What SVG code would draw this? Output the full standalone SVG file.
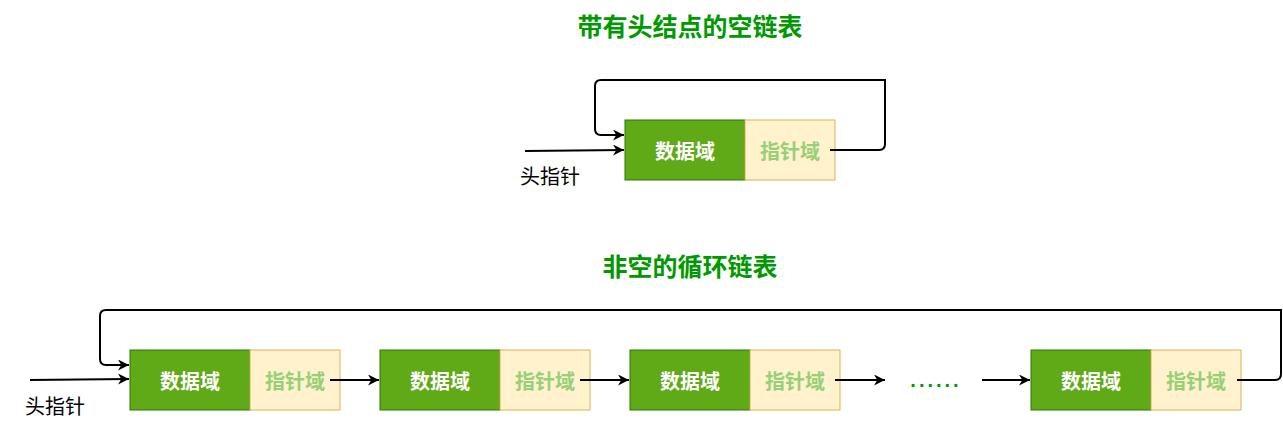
<svg xmlns="http://www.w3.org/2000/svg" width="1283" height="421" viewBox="0 0 1283 421">
<style>
.data{fill:#60a917;stroke:#2d7600;stroke-width:1}
.ptr{fill:#fff2cc;stroke:#d6b656;stroke-width:1}
.dt{font-family:"Noto Sans CJK SC","Noto Sans",sans-serif;font-size:20px;font-weight:bold;fill:#ffffff;text-anchor:middle;dominant-baseline:central}
.pt{font-family:"Noto Sans CJK SC","Noto Sans",sans-serif;font-size:20px;font-weight:bold;fill:#97d077;text-anchor:middle;dominant-baseline:central}
.title{font-family:"Noto Sans CJK SC","Noto Sans",sans-serif;font-size:25px;font-weight:bold;fill:#009900;text-anchor:middle;dominant-baseline:central}
.lbl{font-family:"Noto Sans CJK SC","Noto Sans",sans-serif;font-size:20px;fill:#000000;text-anchor:middle;dominant-baseline:central}
.edge{fill:none;stroke:#000000;stroke-width:2}
</style>
<defs>
<marker id="arr" viewBox="0 0 10 10" refX="10" refY="5" markerWidth="12" markerHeight="11" markerUnits="userSpaceOnUse" orient="auto">
<path d="M0,0 L10,5 L0,10 L3,5 Z" fill="#000"/>
</marker>
</defs>
<rect width="1283" height="421" fill="#ffffff"/>
<text id="title1" class="title" x="690" y="25">带有头结点的空链表</text>
<text id="title2" class="title" x="690" y="265">非空的循环链表</text>

<g id="top-node">
<rect class="data" x="625" y="120" width="120" height="60"/>
<text class="dt" x="685" y="150">数据域</text>
<rect class="ptr" x="745" y="120" width="90" height="60"/>
<text class="pt" x="790" y="150">指针域</text>
</g>
<text id="top-head" class="lbl" x="550" y="175">头指针</text>

<g id="n1">
<rect class="data" x="130" y="350" width="120" height="60"/>
<text class="dt" x="190" y="380">数据域</text>
<rect class="ptr" x="250" y="350" width="90" height="60"/>
<text class="pt" x="295" y="380">指针域</text>
</g>
<g id="n2">
<rect class="data" x="380" y="350" width="120" height="60"/>
<text class="dt" x="440" y="380">数据域</text>
<rect class="ptr" x="500" y="350" width="90" height="60"/>
<text class="pt" x="545" y="380">指针域</text>
</g>
<g id="n3">
<rect class="data" x="630" y="350" width="120" height="60"/>
<text class="dt" x="690" y="380">数据域</text>
<rect class="ptr" x="750" y="350" width="90" height="60"/>
<text class="pt" x="795" y="380">指针域</text>
</g>
<g id="n4">
<rect class="data" x="1031" y="350" width="120" height="60"/>
<text class="dt" x="1091" y="380">数据域</text>
<rect class="ptr" x="1151" y="350" width="90" height="60"/>
<text class="pt" x="1196" y="380">指针域</text>
</g>
<text id="dots" x="936" y="380" font-family="Liberation Sans,sans-serif" font-size="20" font-weight="bold" letter-spacing="3" fill="#009900" text-anchor="middle" dominant-baseline="central">......</text>
<text id="bottom-head" class="lbl" x="55" y="405">头指针</text>

<g id="connectors">
<path class="edge" d="M525,151 L624,150" marker-end="url(#arr)"/>
<path class="edge" d="M830,150 L879,150 Q885,150 885,144 L885,80 L601,80 Q595,80 595,86 L595,129 Q595,135 601,135 L624,135" marker-end="url(#arr)"/>
<path class="edge" d="M30,380 L129,379" marker-end="url(#arr)"/>
<path class="edge" d="M330,380 L379,380" marker-end="url(#arr)"/>
<path class="edge" d="M580,380 L629,380" marker-end="url(#arr)"/>
<path class="edge" d="M835,380 L885,380" marker-end="url(#arr)"/>
<path class="edge" d="M982,380 L1030,380" marker-end="url(#arr)"/>
<path class="edge" d="M1237,380 L1275,380 Q1281,380 1281,374 L1281,310 L106,310 Q100,310 100,316 L100,359 Q100,365 106,365 L129,365" marker-end="url(#arr)"/>
</g>
</svg>
